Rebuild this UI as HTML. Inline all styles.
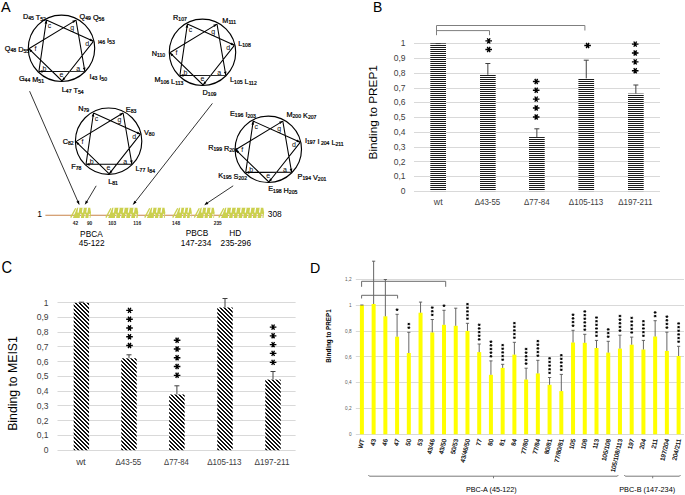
<!DOCTYPE html>
<html><head><meta charset="utf-8"><style>
html,body{margin:0;padding:0;background:#fff;}
svg{display:block;}
text{font-family:"Liberation Sans",sans-serif;}
</style></head><body>
<svg width="685" height="495" viewBox="0 0 685 495">
<defs>
<clipPath id="clipA"><rect x="0" y="0" width="344" height="260"/></clipPath>
<pattern id="hatchH" patternUnits="userSpaceOnUse" width="4" height="2"><rect width="4" height="2" fill="#fff"/><rect y="1" width="4" height="1" fill="#1a1a1a"/></pattern>
<pattern id="hatchD" patternUnits="userSpaceOnUse" width="4" height="4"><rect width="4" height="4" fill="#fff"/><path d="M0 0h2v1h-2zM1 1h2v1h-2zM2 2h2v1h-2zM3 3h1v1h-1zM0 3h1v1h-1z" fill="#111"/></pattern>
</defs>
<rect width="685" height="495" fill="#fff"/>
<line x1="414.00" y1="191.50" x2="660.00" y2="191.50" stroke="#d9d9d9" stroke-width="1" />
<text x="405.50" y="194.10" font-size="8.5" text-anchor="end" fill="#404040" >0</text>
<line x1="414.00" y1="176.50" x2="660.00" y2="176.50" stroke="#d9d9d9" stroke-width="1" />
<text x="405.50" y="179.33" font-size="8.5" text-anchor="end" fill="#404040" >0,1</text>
<line x1="414.00" y1="161.50" x2="660.00" y2="161.50" stroke="#d9d9d9" stroke-width="1" />
<text x="405.50" y="164.56" font-size="8.5" text-anchor="end" fill="#404040" >0,2</text>
<line x1="414.00" y1="147.50" x2="660.00" y2="147.50" stroke="#d9d9d9" stroke-width="1" />
<text x="405.50" y="149.79" font-size="8.5" text-anchor="end" fill="#404040" >0,3</text>
<line x1="414.00" y1="132.50" x2="660.00" y2="132.50" stroke="#d9d9d9" stroke-width="1" />
<text x="405.50" y="135.02" font-size="8.5" text-anchor="end" fill="#404040" >0,4</text>
<line x1="414.00" y1="117.50" x2="660.00" y2="117.50" stroke="#d9d9d9" stroke-width="1" />
<text x="405.50" y="120.25" font-size="8.5" text-anchor="end" fill="#404040" >0,5</text>
<line x1="414.00" y1="102.50" x2="660.00" y2="102.50" stroke="#d9d9d9" stroke-width="1" />
<text x="405.50" y="105.48" font-size="8.5" text-anchor="end" fill="#404040" >0,6</text>
<line x1="414.00" y1="88.50" x2="660.00" y2="88.50" stroke="#d9d9d9" stroke-width="1" />
<text x="405.50" y="90.71" font-size="8.5" text-anchor="end" fill="#404040" >0,7</text>
<line x1="414.00" y1="73.50" x2="660.00" y2="73.50" stroke="#d9d9d9" stroke-width="1" />
<text x="405.50" y="75.94" font-size="8.5" text-anchor="end" fill="#404040" >0,8</text>
<line x1="414.00" y1="58.50" x2="660.00" y2="58.50" stroke="#d9d9d9" stroke-width="1" />
<text x="405.50" y="61.17" font-size="8.5" text-anchor="end" fill="#404040" >0,9</text>
<line x1="414.00" y1="43.50" x2="660.00" y2="43.50" stroke="#d9d9d9" stroke-width="1" />
<text x="405.50" y="46.40" font-size="8.5" text-anchor="end" fill="#404040" >1</text>
<rect x="430.30" y="43.40" width="15.70" height="147.70" fill="url(#hatchH)" />
<line x1="438.15" y1="43.60" x2="438.15" y2="43.40" stroke="#404040" stroke-width="1" />
<line x1="435.65" y1="43.60" x2="440.65" y2="43.60" stroke="#404040" stroke-width="1" />
<rect x="480.00" y="74.71" width="15.70" height="116.39" fill="url(#hatchH)" />
<line x1="487.85" y1="63.50" x2="487.85" y2="74.71" stroke="#404040" stroke-width="1" />
<line x1="485.35" y1="63.50" x2="490.35" y2="63.50" stroke="#404040" stroke-width="1" />
<rect x="529.00" y="137.04" width="15.70" height="54.06" fill="url(#hatchH)" />
<line x1="536.85" y1="128.80" x2="536.85" y2="137.04" stroke="#404040" stroke-width="1" />
<line x1="534.35" y1="128.80" x2="539.35" y2="128.80" stroke="#404040" stroke-width="1" />
<rect x="578.40" y="78.40" width="15.70" height="112.70" fill="url(#hatchH)" />
<line x1="586.25" y1="60.20" x2="586.25" y2="78.40" stroke="#404040" stroke-width="1" />
<line x1="583.75" y1="60.20" x2="588.75" y2="60.20" stroke="#404040" stroke-width="1" />
<rect x="628.00" y="93.62" width="15.70" height="97.48" fill="url(#hatchH)" />
<line x1="635.85" y1="85.00" x2="635.85" y2="93.62" stroke="#404040" stroke-width="1" />
<line x1="633.35" y1="85.00" x2="638.35" y2="85.00" stroke="#404040" stroke-width="1" />
<path d="M485.40 40.90L492.00 40.90M487.31 38.28L490.09 43.52M490.09 38.28L487.31 43.52" stroke="#000" stroke-width="1.35" fill="none"/>
<path d="M485.40 49.50L492.00 49.50M487.31 46.88L490.09 52.12M490.09 46.88L487.31 52.12" stroke="#000" stroke-width="1.35" fill="none"/>
<path d="M532.90 81.50L539.50 81.50M534.81 78.88L537.59 84.12M537.59 78.88L534.81 84.12" stroke="#000" stroke-width="1.35" fill="none"/>
<path d="M532.90 90.20L539.50 90.20M534.81 87.58L537.59 92.82M537.59 87.58L534.81 92.82" stroke="#000" stroke-width="1.35" fill="none"/>
<path d="M532.90 99.10L539.50 99.10M534.81 96.48L537.59 101.72M537.59 96.48L534.81 101.72" stroke="#000" stroke-width="1.35" fill="none"/>
<path d="M532.90 108.00L539.50 108.00M534.81 105.38L537.59 110.62M537.59 105.38L534.81 110.62" stroke="#000" stroke-width="1.35" fill="none"/>
<path d="M532.90 117.00L539.50 117.00M534.81 114.38L537.59 119.62M537.59 114.38L534.81 119.62" stroke="#000" stroke-width="1.35" fill="none"/>
<path d="M584.30 45.50L590.90 45.50M586.21 42.88L588.99 48.12M588.99 42.88L586.21 48.12" stroke="#000" stroke-width="1.35" fill="none"/>
<path d="M631.90 44.10L638.50 44.10M633.81 41.48L636.59 46.72M636.59 41.48L633.81 46.72" stroke="#000" stroke-width="1.35" fill="none"/>
<path d="M631.90 53.00L638.50 53.00M633.81 50.38L636.59 55.62M636.59 50.38L633.81 55.62" stroke="#000" stroke-width="1.35" fill="none"/>
<path d="M631.90 61.90L638.50 61.90M633.81 59.28L636.59 64.52M636.59 59.28L633.81 64.52" stroke="#000" stroke-width="1.35" fill="none"/>
<path d="M631.90 70.70L638.50 70.70M633.81 68.08L636.59 73.32M636.59 68.08L633.81 73.32" stroke="#000" stroke-width="1.35" fill="none"/>
<path d="M436.5 35.2V25.5H584.9V30.5" stroke="#7f7f7f" fill="none" stroke-width="1"/>
<path d="M436.5 30.6H489.5V35.2" stroke="#7f7f7f" fill="none" stroke-width="1"/>
<text x="438.20" y="205.30" font-size="8.4" text-anchor="middle" fill="#404040" textLength="8.8" lengthAdjust="spacingAndGlyphs">wt</text>
<text x="487.50" y="205.30" font-size="8.4" text-anchor="middle" fill="#404040" textLength="25.6" lengthAdjust="spacingAndGlyphs">Δ43-55</text>
<text x="536.80" y="205.30" font-size="8.4" text-anchor="middle" fill="#404040" textLength="25.6" lengthAdjust="spacingAndGlyphs">Δ77-84</text>
<text x="586.00" y="205.30" font-size="8.4" text-anchor="middle" fill="#404040" textLength="34.3" lengthAdjust="spacingAndGlyphs">Δ105-113</text>
<text x="635.30" y="205.30" font-size="8.4" text-anchor="middle" fill="#404040" textLength="34.3" lengthAdjust="spacingAndGlyphs">Δ197-211</text>
<text transform="translate(373.1,11.7) scale(0.93,1)" font-size="15" fill="#000">B</text>
<text transform="translate(377.3,112.3) rotate(-90)" font-size="11.8" text-anchor="middle" fill="#000" textLength="94.4" lengthAdjust="spacingAndGlyphs">Binding to PREP1</text>
<line x1="57.50" y1="450.50" x2="295.60" y2="450.50" stroke="#d9d9d9" stroke-width="1" />
<text x="48.60" y="453.20" font-size="8.5" text-anchor="end" fill="#404040" >0</text>
<line x1="57.50" y1="435.50" x2="295.60" y2="435.50" stroke="#d9d9d9" stroke-width="1" />
<text x="48.60" y="438.45" font-size="8.5" text-anchor="end" fill="#404040" >0,1</text>
<line x1="57.50" y1="420.50" x2="295.60" y2="420.50" stroke="#d9d9d9" stroke-width="1" />
<text x="48.60" y="423.70" font-size="8.5" text-anchor="end" fill="#404040" >0,2</text>
<line x1="57.50" y1="405.50" x2="295.60" y2="405.50" stroke="#d9d9d9" stroke-width="1" />
<text x="48.60" y="408.95" font-size="8.5" text-anchor="end" fill="#404040" >0,3</text>
<line x1="57.50" y1="391.50" x2="295.60" y2="391.50" stroke="#d9d9d9" stroke-width="1" />
<text x="48.60" y="394.20" font-size="8.5" text-anchor="end" fill="#404040" >0,4</text>
<line x1="57.50" y1="376.50" x2="295.60" y2="376.50" stroke="#d9d9d9" stroke-width="1" />
<text x="48.60" y="379.45" font-size="8.5" text-anchor="end" fill="#404040" >0,5</text>
<line x1="57.50" y1="361.50" x2="295.60" y2="361.50" stroke="#d9d9d9" stroke-width="1" />
<text x="48.60" y="364.70" font-size="8.5" text-anchor="end" fill="#404040" >0,6</text>
<line x1="57.50" y1="346.50" x2="295.60" y2="346.50" stroke="#d9d9d9" stroke-width="1" />
<text x="48.60" y="349.95" font-size="8.5" text-anchor="end" fill="#404040" >0,7</text>
<line x1="57.50" y1="332.50" x2="295.60" y2="332.50" stroke="#d9d9d9" stroke-width="1" />
<text x="48.60" y="335.20" font-size="8.5" text-anchor="end" fill="#404040" >0,8</text>
<line x1="57.50" y1="317.50" x2="295.60" y2="317.50" stroke="#d9d9d9" stroke-width="1" />
<text x="48.60" y="320.45" font-size="8.5" text-anchor="end" fill="#404040" >0,9</text>
<line x1="57.50" y1="302.50" x2="295.60" y2="302.50" stroke="#d9d9d9" stroke-width="1" />
<text x="48.60" y="305.70" font-size="8.5" text-anchor="end" fill="#404040" >1</text>
<rect x="73.70" y="302.80" width="15.40" height="147.40" fill="url(#hatchD)" />
<line x1="81.40" y1="302.20" x2="81.40" y2="302.80" stroke="#404040" stroke-width="1" />
<line x1="78.90" y1="302.20" x2="83.90" y2="302.20" stroke="#404040" stroke-width="1" />
<rect x="121.30" y="358.30" width="15.40" height="91.90" fill="url(#hatchD)" />
<line x1="129.00" y1="354.80" x2="129.00" y2="358.30" stroke="#404040" stroke-width="1" />
<line x1="126.50" y1="354.80" x2="131.50" y2="354.80" stroke="#404040" stroke-width="1" />
<rect x="169.20" y="394.50" width="15.40" height="55.70" fill="url(#hatchD)" />
<line x1="176.90" y1="385.80" x2="176.90" y2="394.50" stroke="#404040" stroke-width="1" />
<line x1="174.40" y1="385.80" x2="179.40" y2="385.80" stroke="#404040" stroke-width="1" />
<rect x="217.30" y="307.50" width="15.40" height="142.70" fill="url(#hatchD)" />
<line x1="225.00" y1="298.50" x2="225.00" y2="307.50" stroke="#404040" stroke-width="1" />
<line x1="222.50" y1="298.50" x2="227.50" y2="298.50" stroke="#404040" stroke-width="1" />
<rect x="265.30" y="379.60" width="15.40" height="70.60" fill="url(#hatchD)" />
<line x1="273.00" y1="371.50" x2="273.00" y2="379.60" stroke="#404040" stroke-width="1" />
<line x1="270.50" y1="371.50" x2="275.50" y2="371.50" stroke="#404040" stroke-width="1" />
<path d="M126.20 310.40L132.80 310.40M128.11 307.78L130.89 313.02M130.89 307.78L128.11 313.02" stroke="#000" stroke-width="1.35" fill="none"/>
<path d="M126.20 319.20L132.80 319.20M128.11 316.58L130.89 321.82M130.89 316.58L128.11 321.82" stroke="#000" stroke-width="1.35" fill="none"/>
<path d="M126.20 328.00L132.80 328.00M128.11 325.38L130.89 330.62M130.89 325.38L128.11 330.62" stroke="#000" stroke-width="1.35" fill="none"/>
<path d="M126.20 336.70L132.80 336.70M128.11 334.08L130.89 339.32M130.89 334.08L128.11 339.32" stroke="#000" stroke-width="1.35" fill="none"/>
<path d="M126.20 345.50L132.80 345.50M128.11 342.88L130.89 348.12M130.89 342.88L128.11 348.12" stroke="#000" stroke-width="1.35" fill="none"/>
<path d="M173.80 340.20L180.40 340.20M175.71 337.58L178.49 342.82M178.49 337.58L175.71 342.82" stroke="#000" stroke-width="1.35" fill="none"/>
<path d="M173.80 349.00L180.40 349.00M175.71 346.38L178.49 351.62M178.49 346.38L175.71 351.62" stroke="#000" stroke-width="1.35" fill="none"/>
<path d="M173.80 357.70L180.40 357.70M175.71 355.08L178.49 360.32M178.49 355.08L175.71 360.32" stroke="#000" stroke-width="1.35" fill="none"/>
<path d="M173.80 366.50L180.40 366.50M175.71 363.88L178.49 369.12M178.49 363.88L175.71 369.12" stroke="#000" stroke-width="1.35" fill="none"/>
<path d="M173.80 375.30L180.40 375.30M175.71 372.68L178.49 377.92M178.49 372.68L175.71 377.92" stroke="#000" stroke-width="1.35" fill="none"/>
<path d="M269.80 327.10L276.40 327.10M271.71 324.48L274.49 329.72M274.49 324.48L271.71 329.72" stroke="#000" stroke-width="1.35" fill="none"/>
<path d="M269.80 335.80L276.40 335.80M271.71 333.18L274.49 338.42M274.49 333.18L271.71 338.42" stroke="#000" stroke-width="1.35" fill="none"/>
<path d="M269.80 344.60L276.40 344.60M271.71 341.98L274.49 347.22M274.49 341.98L271.71 347.22" stroke="#000" stroke-width="1.35" fill="none"/>
<path d="M269.80 353.40L276.40 353.40M271.71 350.78L274.49 356.02M274.49 350.78L271.71 356.02" stroke="#000" stroke-width="1.35" fill="none"/>
<path d="M269.80 362.40L276.40 362.40M271.71 359.78L274.49 365.02M274.49 359.78L271.71 365.02" stroke="#000" stroke-width="1.35" fill="none"/>
<text x="81.00" y="464.80" font-size="8.4" text-anchor="middle" fill="#404040" textLength="9.6" lengthAdjust="spacingAndGlyphs">wt</text>
<text x="128.40" y="464.80" font-size="8.4" text-anchor="middle" fill="#404040" textLength="25.9" lengthAdjust="spacingAndGlyphs">Δ43-55</text>
<text x="176.50" y="464.80" font-size="8.4" text-anchor="middle" fill="#404040" textLength="24.8" lengthAdjust="spacingAndGlyphs">Δ77-84</text>
<text x="224.40" y="464.80" font-size="8.4" text-anchor="middle" fill="#404040" textLength="34.3" lengthAdjust="spacingAndGlyphs">Δ105-113</text>
<text x="272.00" y="464.80" font-size="8.4" text-anchor="middle" fill="#404040" textLength="35.0" lengthAdjust="spacingAndGlyphs">Δ197-211</text>
<text transform="translate(1.4,272.9) scale(0.94,1)" font-size="15.6" fill="#000">C</text>
<text transform="translate(17.3,383.5) rotate(-90)" font-size="12.2" text-anchor="middle" fill="#000" textLength="94.6" lengthAdjust="spacingAndGlyphs">Binding to MEIS1</text>
<line x1="355.80" y1="434.50" x2="684.00" y2="434.50" stroke="#d9d9d9" stroke-width="1" />
<text x="351.60" y="436.00" font-size="4.7" text-anchor="end" fill="#595959" >0</text>
<line x1="355.80" y1="408.50" x2="684.00" y2="408.50" stroke="#d9d9d9" stroke-width="1" />
<text x="351.60" y="410.18" font-size="4.7" text-anchor="end" fill="#595959" >0,2</text>
<line x1="355.80" y1="382.50" x2="684.00" y2="382.50" stroke="#d9d9d9" stroke-width="1" />
<text x="351.60" y="384.36" font-size="4.7" text-anchor="end" fill="#595959" >0,4</text>
<line x1="355.80" y1="356.50" x2="684.00" y2="356.50" stroke="#d9d9d9" stroke-width="1" />
<text x="351.60" y="358.54" font-size="4.7" text-anchor="end" fill="#595959" >0,6</text>
<line x1="355.80" y1="331.50" x2="684.00" y2="331.50" stroke="#d9d9d9" stroke-width="1" />
<text x="351.60" y="332.72" font-size="4.7" text-anchor="end" fill="#595959" >0,8</text>
<line x1="355.80" y1="305.50" x2="684.00" y2="305.50" stroke="#d9d9d9" stroke-width="1" />
<text x="351.60" y="306.90" font-size="4.7" text-anchor="end" fill="#595959" >1</text>
<line x1="355.80" y1="279.50" x2="684.00" y2="279.50" stroke="#d9d9d9" stroke-width="1" />
<text x="351.60" y="281.08" font-size="4.7" text-anchor="end" fill="#595959" >1,2</text>
<rect x="359.90" y="305.10" width="4.00" height="129.20" fill="#ffff00" />
<line x1="361.90" y1="305.00" x2="361.90" y2="305.10" stroke="#555" stroke-width="0.9" />
<line x1="360.30" y1="305.00" x2="363.50" y2="305.00" stroke="#555" stroke-width="0.9" />
<text x="0.00" y="0.00" font-size="6.2" text-anchor="end" fill="#000" transform="translate(364.40,439.5) rotate(-77)" stroke="#000" stroke-width="0.18">WT</text>
<rect x="371.63" y="304.00" width="4.00" height="130.30" fill="#ffff00" />
<line x1="373.63" y1="261.20" x2="373.63" y2="304.00" stroke="#555" stroke-width="0.9" />
<line x1="372.03" y1="261.20" x2="375.23" y2="261.20" stroke="#555" stroke-width="0.9" />
<text x="0.00" y="0.00" font-size="6.2" text-anchor="end" fill="#000" transform="translate(376.13,439.5) rotate(-77)" stroke="#000" stroke-width="0.18">43</text>
<rect x="383.36" y="316.30" width="4.00" height="118.00" fill="#ffff00" />
<line x1="385.36" y1="279.50" x2="385.36" y2="316.30" stroke="#555" stroke-width="0.9" />
<line x1="383.76" y1="279.50" x2="386.96" y2="279.50" stroke="#555" stroke-width="0.9" />
<text x="0.00" y="0.00" font-size="6.2" text-anchor="end" fill="#000" transform="translate(387.86,439.5) rotate(-77)" stroke="#000" stroke-width="0.18">46</text>
<rect x="395.09" y="336.70" width="4.00" height="97.60" fill="#ffff00" />
<line x1="397.09" y1="314.30" x2="397.09" y2="336.70" stroke="#555" stroke-width="0.9" />
<line x1="395.49" y1="314.30" x2="398.69" y2="314.30" stroke="#555" stroke-width="0.9" />
<path d="M395.64 309.70L398.54 309.70M396.48 308.55L397.70 310.85M397.70 308.55L396.48 310.85" stroke="#000" stroke-width="0.95" fill="none"/>
<text x="0.00" y="0.00" font-size="6.2" text-anchor="end" fill="#000" transform="translate(399.59,439.5) rotate(-77)" stroke="#000" stroke-width="0.18">47</text>
<rect x="406.82" y="353.00" width="4.00" height="81.30" fill="#ffff00" />
<line x1="408.82" y1="332.30" x2="408.82" y2="353.00" stroke="#555" stroke-width="0.9" />
<line x1="407.22" y1="332.30" x2="410.42" y2="332.30" stroke="#555" stroke-width="0.9" />
<path d="M407.37 327.70L410.27 327.70M408.21 326.55L409.43 328.85M409.43 326.55L408.21 328.85" stroke="#000" stroke-width="0.95" fill="none"/>
<path d="M407.37 324.05L410.27 324.05M408.21 322.90L409.43 325.20M409.43 322.90L408.21 325.20" stroke="#000" stroke-width="0.95" fill="none"/>
<text x="0.00" y="0.00" font-size="6.2" text-anchor="end" fill="#000" transform="translate(411.32,439.5) rotate(-77)" stroke="#000" stroke-width="0.18">50</text>
<rect x="418.55" y="312.70" width="4.00" height="121.60" fill="#ffff00" />
<line x1="420.55" y1="302.10" x2="420.55" y2="312.70" stroke="#555" stroke-width="0.9" />
<line x1="418.95" y1="302.10" x2="422.15" y2="302.10" stroke="#555" stroke-width="0.9" />
<text x="0.00" y="0.00" font-size="6.2" text-anchor="end" fill="#000" transform="translate(423.05,439.5) rotate(-77)" stroke="#000" stroke-width="0.18">53</text>
<rect x="430.28" y="332.40" width="4.00" height="101.90" fill="#ffff00" />
<line x1="432.28" y1="319.50" x2="432.28" y2="332.40" stroke="#555" stroke-width="0.9" />
<line x1="430.68" y1="319.50" x2="433.88" y2="319.50" stroke="#555" stroke-width="0.9" />
<path d="M430.83 314.90L433.73 314.90M431.67 313.75L432.89 316.05M432.89 313.75L431.67 316.05" stroke="#000" stroke-width="0.95" fill="none"/>
<path d="M430.83 311.25L433.73 311.25M431.67 310.10L432.89 312.40M432.89 310.10L431.67 312.40" stroke="#000" stroke-width="0.95" fill="none"/>
<path d="M430.83 307.60L433.73 307.60M431.67 306.45L432.89 308.75M432.89 306.45L431.67 308.75" stroke="#000" stroke-width="0.95" fill="none"/>
<text x="0.00" y="0.00" font-size="6.2" text-anchor="end" fill="#000" transform="translate(434.78,439.5) rotate(-77)" stroke="#000" stroke-width="0.18">43/46</text>
<rect x="442.01" y="324.80" width="4.00" height="109.50" fill="#ffff00" />
<line x1="444.01" y1="310.30" x2="444.01" y2="324.80" stroke="#555" stroke-width="0.9" />
<line x1="442.41" y1="310.30" x2="445.61" y2="310.30" stroke="#555" stroke-width="0.9" />
<path d="M442.56 305.70L445.46 305.70M443.40 304.55L444.62 306.85M444.62 304.55L443.40 306.85" stroke="#000" stroke-width="0.95" fill="none"/>
<text x="0.00" y="0.00" font-size="6.2" text-anchor="end" fill="#000" transform="translate(446.51,439.5) rotate(-77)" stroke="#000" stroke-width="0.18">43/50</text>
<rect x="453.74" y="325.80" width="4.00" height="108.50" fill="#ffff00" />
<line x1="455.74" y1="308.20" x2="455.74" y2="325.80" stroke="#555" stroke-width="0.9" />
<line x1="454.14" y1="308.20" x2="457.34" y2="308.20" stroke="#555" stroke-width="0.9" />
<text x="0.00" y="0.00" font-size="6.2" text-anchor="end" fill="#000" transform="translate(458.24,439.5) rotate(-77)" stroke="#000" stroke-width="0.18">50/53</text>
<rect x="465.47" y="330.90" width="4.00" height="103.40" fill="#ffff00" />
<line x1="467.47" y1="323.30" x2="467.47" y2="330.90" stroke="#555" stroke-width="0.9" />
<line x1="465.87" y1="323.30" x2="469.07" y2="323.30" stroke="#555" stroke-width="0.9" />
<path d="M466.02 318.70L468.92 318.70M466.86 317.55L468.08 319.85M468.08 317.55L466.86 319.85" stroke="#000" stroke-width="0.95" fill="none"/>
<path d="M466.02 315.05L468.92 315.05M466.86 313.90L468.08 316.20M468.08 313.90L466.86 316.20" stroke="#000" stroke-width="0.95" fill="none"/>
<path d="M466.02 311.40L468.92 311.40M466.86 310.25L468.08 312.55M468.08 310.25L466.86 312.55" stroke="#000" stroke-width="0.95" fill="none"/>
<path d="M466.02 307.75L468.92 307.75M466.86 306.60L468.08 308.90M468.08 306.60L466.86 308.90" stroke="#000" stroke-width="0.95" fill="none"/>
<path d="M466.02 304.10L468.92 304.10M466.86 302.95L468.08 305.25M468.08 302.95L466.86 305.25" stroke="#000" stroke-width="0.95" fill="none"/>
<text x="0.00" y="0.00" font-size="6.2" text-anchor="end" fill="#000" transform="translate(469.97,439.5) rotate(-77)" stroke="#000" stroke-width="0.18">43/46/50</text>
<rect x="477.20" y="352.10" width="4.00" height="82.20" fill="#ffff00" />
<line x1="479.20" y1="344.00" x2="479.20" y2="352.10" stroke="#555" stroke-width="0.9" />
<line x1="477.60" y1="344.00" x2="480.80" y2="344.00" stroke="#555" stroke-width="0.9" />
<path d="M477.75 339.40L480.65 339.40M478.59 338.25L479.81 340.55M479.81 338.25L478.59 340.55" stroke="#000" stroke-width="0.95" fill="none"/>
<path d="M477.75 335.75L480.65 335.75M478.59 334.60L479.81 336.90M479.81 334.60L478.59 336.90" stroke="#000" stroke-width="0.95" fill="none"/>
<path d="M477.75 332.10L480.65 332.10M478.59 330.95L479.81 333.25M479.81 330.95L478.59 333.25" stroke="#000" stroke-width="0.95" fill="none"/>
<path d="M477.75 328.45L480.65 328.45M478.59 327.30L479.81 329.60M479.81 327.30L478.59 329.60" stroke="#000" stroke-width="0.95" fill="none"/>
<path d="M477.75 324.80L480.65 324.80M478.59 323.65L479.81 325.95M479.81 323.65L478.59 325.95" stroke="#000" stroke-width="0.95" fill="none"/>
<text x="0.00" y="0.00" font-size="6.2" text-anchor="end" fill="#000" transform="translate(481.70,439.5) rotate(-77)" stroke="#000" stroke-width="0.18">77</text>
<rect x="488.93" y="374.80" width="4.00" height="59.50" fill="#ffff00" />
<line x1="490.93" y1="360.90" x2="490.93" y2="374.80" stroke="#555" stroke-width="0.9" />
<line x1="489.33" y1="360.90" x2="492.53" y2="360.90" stroke="#555" stroke-width="0.9" />
<path d="M489.48 356.30L492.38 356.30M490.32 355.15L491.54 357.45M491.54 355.15L490.32 357.45" stroke="#000" stroke-width="0.95" fill="none"/>
<path d="M489.48 352.65L492.38 352.65M490.32 351.50L491.54 353.80M491.54 351.50L490.32 353.80" stroke="#000" stroke-width="0.95" fill="none"/>
<path d="M489.48 349.00L492.38 349.00M490.32 347.85L491.54 350.15M491.54 347.85L490.32 350.15" stroke="#000" stroke-width="0.95" fill="none"/>
<path d="M489.48 345.35L492.38 345.35M490.32 344.20L491.54 346.50M491.54 344.20L490.32 346.50" stroke="#000" stroke-width="0.95" fill="none"/>
<path d="M489.48 341.70L492.38 341.70M490.32 340.55L491.54 342.85M491.54 340.55L490.32 342.85" stroke="#000" stroke-width="0.95" fill="none"/>
<text x="0.00" y="0.00" font-size="6.2" text-anchor="end" fill="#000" transform="translate(493.43,439.5) rotate(-77)" stroke="#000" stroke-width="0.18">80</text>
<rect x="500.66" y="367.90" width="4.00" height="66.40" fill="#ffff00" />
<line x1="502.66" y1="364.30" x2="502.66" y2="367.90" stroke="#555" stroke-width="0.9" />
<line x1="501.06" y1="364.30" x2="504.26" y2="364.30" stroke="#555" stroke-width="0.9" />
<path d="M501.21 359.70L504.11 359.70M502.05 358.55L503.27 360.85M503.27 358.55L502.05 360.85" stroke="#000" stroke-width="0.95" fill="none"/>
<path d="M501.21 356.05L504.11 356.05M502.05 354.90L503.27 357.20M503.27 354.90L502.05 357.20" stroke="#000" stroke-width="0.95" fill="none"/>
<path d="M501.21 352.40L504.11 352.40M502.05 351.25L503.27 353.55M503.27 351.25L502.05 353.55" stroke="#000" stroke-width="0.95" fill="none"/>
<path d="M501.21 348.75L504.11 348.75M502.05 347.60L503.27 349.90M503.27 347.60L502.05 349.90" stroke="#000" stroke-width="0.95" fill="none"/>
<path d="M501.21 345.10L504.11 345.10M502.05 343.95L503.27 346.25M503.27 343.95L502.05 346.25" stroke="#000" stroke-width="0.95" fill="none"/>
<text x="0.00" y="0.00" font-size="6.2" text-anchor="end" fill="#000" transform="translate(505.16,439.5) rotate(-77)" stroke="#000" stroke-width="0.18">81</text>
<rect x="512.39" y="354.60" width="4.00" height="79.70" fill="#ffff00" />
<line x1="514.39" y1="342.30" x2="514.39" y2="354.60" stroke="#555" stroke-width="0.9" />
<line x1="512.79" y1="342.30" x2="515.99" y2="342.30" stroke="#555" stroke-width="0.9" />
<path d="M512.94 337.70L515.84 337.70M513.78 336.55L515.00 338.85M515.00 336.55L513.78 338.85" stroke="#000" stroke-width="0.95" fill="none"/>
<path d="M512.94 334.05L515.84 334.05M513.78 332.90L515.00 335.20M515.00 332.90L513.78 335.20" stroke="#000" stroke-width="0.95" fill="none"/>
<path d="M512.94 330.40L515.84 330.40M513.78 329.25L515.00 331.55M515.00 329.25L513.78 331.55" stroke="#000" stroke-width="0.95" fill="none"/>
<path d="M512.94 326.75L515.84 326.75M513.78 325.60L515.00 327.90M515.00 325.60L513.78 327.90" stroke="#000" stroke-width="0.95" fill="none"/>
<path d="M512.94 323.10L515.84 323.10M513.78 321.95L515.00 324.25M515.00 321.95L513.78 324.25" stroke="#000" stroke-width="0.95" fill="none"/>
<text x="0.00" y="0.00" font-size="6.2" text-anchor="end" fill="#000" transform="translate(516.89,439.5) rotate(-77)" stroke="#000" stroke-width="0.18">84</text>
<rect x="524.12" y="379.50" width="4.00" height="54.80" fill="#ffff00" />
<line x1="526.12" y1="368.20" x2="526.12" y2="379.50" stroke="#555" stroke-width="0.9" />
<line x1="524.52" y1="368.20" x2="527.72" y2="368.20" stroke="#555" stroke-width="0.9" />
<path d="M524.67 363.60L527.57 363.60M525.51 362.45L526.73 364.75M526.73 362.45L525.51 364.75" stroke="#000" stroke-width="0.95" fill="none"/>
<path d="M524.67 359.95L527.57 359.95M525.51 358.80L526.73 361.10M526.73 358.80L525.51 361.10" stroke="#000" stroke-width="0.95" fill="none"/>
<path d="M524.67 356.30L527.57 356.30M525.51 355.15L526.73 357.45M526.73 355.15L525.51 357.45" stroke="#000" stroke-width="0.95" fill="none"/>
<path d="M524.67 352.65L527.57 352.65M525.51 351.50L526.73 353.80M526.73 351.50L525.51 353.80" stroke="#000" stroke-width="0.95" fill="none"/>
<path d="M524.67 349.00L527.57 349.00M525.51 347.85L526.73 350.15M526.73 347.85L525.51 350.15" stroke="#000" stroke-width="0.95" fill="none"/>
<text x="0.00" y="0.00" font-size="6.2" text-anchor="end" fill="#000" transform="translate(528.62,439.5) rotate(-77)" stroke="#000" stroke-width="0.18">77/80</text>
<rect x="535.85" y="373.40" width="4.00" height="60.90" fill="#ffff00" />
<line x1="537.85" y1="360.30" x2="537.85" y2="373.40" stroke="#555" stroke-width="0.9" />
<line x1="536.25" y1="360.30" x2="539.45" y2="360.30" stroke="#555" stroke-width="0.9" />
<path d="M536.40 355.70L539.30 355.70M537.24 354.55L538.46 356.85M538.46 354.55L537.24 356.85" stroke="#000" stroke-width="0.95" fill="none"/>
<path d="M536.40 352.05L539.30 352.05M537.24 350.90L538.46 353.20M538.46 350.90L537.24 353.20" stroke="#000" stroke-width="0.95" fill="none"/>
<path d="M536.40 348.40L539.30 348.40M537.24 347.25L538.46 349.55M538.46 347.25L537.24 349.55" stroke="#000" stroke-width="0.95" fill="none"/>
<path d="M536.40 344.75L539.30 344.75M537.24 343.60L538.46 345.90M538.46 343.60L537.24 345.90" stroke="#000" stroke-width="0.95" fill="none"/>
<path d="M536.40 341.10L539.30 341.10M537.24 339.95L538.46 342.25M538.46 339.95L537.24 342.25" stroke="#000" stroke-width="0.95" fill="none"/>
<text x="0.00" y="0.00" font-size="6.2" text-anchor="end" fill="#000" transform="translate(540.35,439.5) rotate(-77)" stroke="#000" stroke-width="0.18">77/84</text>
<rect x="547.58" y="384.80" width="4.00" height="49.50" fill="#ffff00" />
<line x1="549.58" y1="377.50" x2="549.58" y2="384.80" stroke="#555" stroke-width="0.9" />
<line x1="547.98" y1="377.50" x2="551.18" y2="377.50" stroke="#555" stroke-width="0.9" />
<path d="M548.13 372.90L551.03 372.90M548.97 371.75L550.19 374.05M550.19 371.75L548.97 374.05" stroke="#000" stroke-width="0.95" fill="none"/>
<path d="M548.13 369.25L551.03 369.25M548.97 368.10L550.19 370.40M550.19 368.10L548.97 370.40" stroke="#000" stroke-width="0.95" fill="none"/>
<path d="M548.13 365.60L551.03 365.60M548.97 364.45L550.19 366.75M550.19 364.45L548.97 366.75" stroke="#000" stroke-width="0.95" fill="none"/>
<path d="M548.13 361.95L551.03 361.95M548.97 360.80L550.19 363.10M550.19 360.80L548.97 363.10" stroke="#000" stroke-width="0.95" fill="none"/>
<path d="M548.13 358.30L551.03 358.30M548.97 357.15L550.19 359.45M550.19 357.15L548.97 359.45" stroke="#000" stroke-width="0.95" fill="none"/>
<text x="0.00" y="0.00" font-size="6.2" text-anchor="end" fill="#000" transform="translate(552.08,439.5) rotate(-77)" stroke="#000" stroke-width="0.18">80/81</text>
<rect x="559.31" y="391.10" width="4.00" height="43.20" fill="#ffff00" />
<line x1="561.31" y1="374.40" x2="561.31" y2="391.10" stroke="#555" stroke-width="0.9" />
<line x1="559.71" y1="374.40" x2="562.91" y2="374.40" stroke="#555" stroke-width="0.9" />
<path d="M559.86 369.80L562.76 369.80M560.70 368.65L561.92 370.95M561.92 368.65L560.70 370.95" stroke="#000" stroke-width="0.95" fill="none"/>
<path d="M559.86 366.15L562.76 366.15M560.70 365.00L561.92 367.30M561.92 365.00L560.70 367.30" stroke="#000" stroke-width="0.95" fill="none"/>
<path d="M559.86 362.50L562.76 362.50M560.70 361.35L561.92 363.65M561.92 361.35L560.70 363.65" stroke="#000" stroke-width="0.95" fill="none"/>
<path d="M559.86 358.85L562.76 358.85M560.70 357.70L561.92 360.00M561.92 357.70L560.70 360.00" stroke="#000" stroke-width="0.95" fill="none"/>
<path d="M559.86 355.20L562.76 355.20M560.70 354.05L561.92 356.35M561.92 354.05L560.70 356.35" stroke="#000" stroke-width="0.95" fill="none"/>
<text x="0.00" y="0.00" font-size="6.2" text-anchor="end" fill="#000" transform="translate(563.81,439.5) rotate(-77)" stroke="#000" stroke-width="0.18">77/80/81</text>
<rect x="571.04" y="342.50" width="4.00" height="91.80" fill="#ffff00" />
<line x1="573.04" y1="330.30" x2="573.04" y2="342.50" stroke="#555" stroke-width="0.9" />
<line x1="571.44" y1="330.30" x2="574.64" y2="330.30" stroke="#555" stroke-width="0.9" />
<path d="M571.59 325.70L574.49 325.70M572.43 324.55L573.65 326.85M573.65 324.55L572.43 326.85" stroke="#000" stroke-width="0.95" fill="none"/>
<path d="M571.59 322.05L574.49 322.05M572.43 320.90L573.65 323.20M573.65 320.90L572.43 323.20" stroke="#000" stroke-width="0.95" fill="none"/>
<path d="M571.59 318.40L574.49 318.40M572.43 317.25L573.65 319.55M573.65 317.25L572.43 319.55" stroke="#000" stroke-width="0.95" fill="none"/>
<path d="M571.59 314.75L574.49 314.75M572.43 313.60L573.65 315.90M573.65 313.60L572.43 315.90" stroke="#000" stroke-width="0.95" fill="none"/>
<text x="0.00" y="0.00" font-size="6.2" text-anchor="end" fill="#000" transform="translate(575.54,439.5) rotate(-77)" stroke="#000" stroke-width="0.18">105</text>
<rect x="582.77" y="342.80" width="4.00" height="91.50" fill="#ffff00" />
<line x1="584.77" y1="334.30" x2="584.77" y2="342.80" stroke="#555" stroke-width="0.9" />
<line x1="583.17" y1="334.30" x2="586.37" y2="334.30" stroke="#555" stroke-width="0.9" />
<path d="M583.32 329.70L586.22 329.70M584.16 328.55L585.38 330.85M585.38 328.55L584.16 330.85" stroke="#000" stroke-width="0.95" fill="none"/>
<path d="M583.32 326.05L586.22 326.05M584.16 324.90L585.38 327.20M585.38 324.90L584.16 327.20" stroke="#000" stroke-width="0.95" fill="none"/>
<path d="M583.32 322.40L586.22 322.40M584.16 321.25L585.38 323.55M585.38 321.25L584.16 323.55" stroke="#000" stroke-width="0.95" fill="none"/>
<path d="M583.32 318.75L586.22 318.75M584.16 317.60L585.38 319.90M585.38 317.60L584.16 319.90" stroke="#000" stroke-width="0.95" fill="none"/>
<path d="M583.32 315.10L586.22 315.10M584.16 313.95L585.38 316.25M585.38 313.95L584.16 316.25" stroke="#000" stroke-width="0.95" fill="none"/>
<path d="M583.32 311.45L586.22 311.45M584.16 310.30L585.38 312.60M585.38 310.30L584.16 312.60" stroke="#000" stroke-width="0.95" fill="none"/>
<text x="0.00" y="0.00" font-size="6.2" text-anchor="end" fill="#000" transform="translate(587.27,439.5) rotate(-77)" stroke="#000" stroke-width="0.18">108</text>
<rect x="594.50" y="348.00" width="4.00" height="86.30" fill="#ffff00" />
<line x1="596.50" y1="340.40" x2="596.50" y2="348.00" stroke="#555" stroke-width="0.9" />
<line x1="594.90" y1="340.40" x2="598.10" y2="340.40" stroke="#555" stroke-width="0.9" />
<path d="M595.05 335.80L597.95 335.80M595.89 334.65L597.11 336.95M597.11 334.65L595.89 336.95" stroke="#000" stroke-width="0.95" fill="none"/>
<path d="M595.05 332.15L597.95 332.15M595.89 331.00L597.11 333.30M597.11 331.00L595.89 333.30" stroke="#000" stroke-width="0.95" fill="none"/>
<path d="M595.05 328.50L597.95 328.50M595.89 327.35L597.11 329.65M597.11 327.35L595.89 329.65" stroke="#000" stroke-width="0.95" fill="none"/>
<path d="M595.05 324.85L597.95 324.85M595.89 323.70L597.11 326.00M597.11 323.70L595.89 326.00" stroke="#000" stroke-width="0.95" fill="none"/>
<path d="M595.05 321.20L597.95 321.20M595.89 320.05L597.11 322.35M597.11 320.05L595.89 322.35" stroke="#000" stroke-width="0.95" fill="none"/>
<path d="M595.05 317.55L597.95 317.55M595.89 316.40L597.11 318.70M597.11 316.40L595.89 318.70" stroke="#000" stroke-width="0.95" fill="none"/>
<text x="0.00" y="0.00" font-size="6.2" text-anchor="end" fill="#000" transform="translate(599.00,439.5) rotate(-77)" stroke="#000" stroke-width="0.18">113</text>
<rect x="606.23" y="352.60" width="4.00" height="81.70" fill="#ffff00" />
<line x1="608.23" y1="341.30" x2="608.23" y2="352.60" stroke="#555" stroke-width="0.9" />
<line x1="606.63" y1="341.30" x2="609.83" y2="341.30" stroke="#555" stroke-width="0.9" />
<path d="M606.78 336.70L609.68 336.70M607.62 335.55L608.84 337.85M608.84 335.55L607.62 337.85" stroke="#000" stroke-width="0.95" fill="none"/>
<path d="M606.78 333.05L609.68 333.05M607.62 331.90L608.84 334.20M608.84 331.90L607.62 334.20" stroke="#000" stroke-width="0.95" fill="none"/>
<path d="M606.78 329.40L609.68 329.40M607.62 328.25L608.84 330.55M608.84 328.25L607.62 330.55" stroke="#000" stroke-width="0.95" fill="none"/>
<text x="0.00" y="0.00" font-size="6.2" text-anchor="end" fill="#000" transform="translate(610.73,439.5) rotate(-77)" stroke="#000" stroke-width="0.18">105/108</text>
<rect x="617.96" y="348.60" width="4.00" height="85.70" fill="#ffff00" />
<line x1="619.96" y1="335.20" x2="619.96" y2="348.60" stroke="#555" stroke-width="0.9" />
<line x1="618.36" y1="335.20" x2="621.56" y2="335.20" stroke="#555" stroke-width="0.9" />
<path d="M618.51 330.60L621.41 330.60M619.35 329.45L620.57 331.75M620.57 329.45L619.35 331.75" stroke="#000" stroke-width="0.95" fill="none"/>
<path d="M618.51 326.95L621.41 326.95M619.35 325.80L620.57 328.10M620.57 325.80L619.35 328.10" stroke="#000" stroke-width="0.95" fill="none"/>
<path d="M618.51 323.30L621.41 323.30M619.35 322.15L620.57 324.45M620.57 322.15L619.35 324.45" stroke="#000" stroke-width="0.95" fill="none"/>
<path d="M618.51 319.65L621.41 319.65M619.35 318.50L620.57 320.80M620.57 318.50L619.35 320.80" stroke="#000" stroke-width="0.95" fill="none"/>
<path d="M618.51 316.00L621.41 316.00M619.35 314.85L620.57 317.15M620.57 314.85L619.35 317.15" stroke="#000" stroke-width="0.95" fill="none"/>
<text x="0.00" y="0.00" font-size="6.2" text-anchor="end" fill="#000" transform="translate(622.46,439.5) rotate(-77)" stroke="#000" stroke-width="0.18">105/108/113</text>
<rect x="629.69" y="344.70" width="4.00" height="89.60" fill="#ffff00" />
<line x1="631.69" y1="337.10" x2="631.69" y2="344.70" stroke="#555" stroke-width="0.9" />
<line x1="630.09" y1="337.10" x2="633.29" y2="337.10" stroke="#555" stroke-width="0.9" />
<path d="M630.24 332.50L633.14 332.50M631.08 331.35L632.30 333.65M632.30 331.35L631.08 333.65" stroke="#000" stroke-width="0.95" fill="none"/>
<path d="M630.24 328.85L633.14 328.85M631.08 327.70L632.30 330.00M632.30 327.70L631.08 330.00" stroke="#000" stroke-width="0.95" fill="none"/>
<path d="M630.24 325.20L633.14 325.20M631.08 324.05L632.30 326.35M632.30 324.05L631.08 326.35" stroke="#000" stroke-width="0.95" fill="none"/>
<path d="M630.24 321.55L633.14 321.55M631.08 320.40L632.30 322.70M632.30 320.40L631.08 322.70" stroke="#000" stroke-width="0.95" fill="none"/>
<path d="M630.24 317.90L633.14 317.90M631.08 316.75L632.30 319.05M632.30 316.75L631.08 319.05" stroke="#000" stroke-width="0.95" fill="none"/>
<text x="0.00" y="0.00" font-size="6.2" text-anchor="end" fill="#000" transform="translate(634.19,439.5) rotate(-77)" stroke="#000" stroke-width="0.18">197</text>
<rect x="641.42" y="349.50" width="4.00" height="84.80" fill="#ffff00" />
<line x1="643.42" y1="340.40" x2="643.42" y2="349.50" stroke="#555" stroke-width="0.9" />
<line x1="641.82" y1="340.40" x2="645.02" y2="340.40" stroke="#555" stroke-width="0.9" />
<path d="M641.97 335.80L644.87 335.80M642.81 334.65L644.03 336.95M644.03 334.65L642.81 336.95" stroke="#000" stroke-width="0.95" fill="none"/>
<path d="M641.97 332.15L644.87 332.15M642.81 331.00L644.03 333.30M644.03 331.00L642.81 333.30" stroke="#000" stroke-width="0.95" fill="none"/>
<path d="M641.97 328.50L644.87 328.50M642.81 327.35L644.03 329.65M644.03 327.35L642.81 329.65" stroke="#000" stroke-width="0.95" fill="none"/>
<path d="M641.97 324.85L644.87 324.85M642.81 323.70L644.03 326.00M644.03 323.70L642.81 326.00" stroke="#000" stroke-width="0.95" fill="none"/>
<path d="M641.97 321.20L644.87 321.20M642.81 320.05L644.03 322.35M644.03 320.05L642.81 322.35" stroke="#000" stroke-width="0.95" fill="none"/>
<text x="0.00" y="0.00" font-size="6.2" text-anchor="end" fill="#000" transform="translate(645.92,439.5) rotate(-77)" stroke="#000" stroke-width="0.18">204</text>
<rect x="653.15" y="336.50" width="4.00" height="97.80" fill="#ffff00" />
<line x1="655.15" y1="320.70" x2="655.15" y2="336.50" stroke="#555" stroke-width="0.9" />
<line x1="653.55" y1="320.70" x2="656.75" y2="320.70" stroke="#555" stroke-width="0.9" />
<path d="M653.70 316.10L656.60 316.10M654.54 314.95L655.76 317.25M655.76 314.95L654.54 317.25" stroke="#000" stroke-width="0.95" fill="none"/>
<path d="M653.70 312.45L656.60 312.45M654.54 311.30L655.76 313.60M655.76 311.30L654.54 313.60" stroke="#000" stroke-width="0.95" fill="none"/>
<text x="0.00" y="0.00" font-size="6.2" text-anchor="end" fill="#000" transform="translate(657.65,439.5) rotate(-77)" stroke="#000" stroke-width="0.18">211</text>
<rect x="664.88" y="350.90" width="4.00" height="83.40" fill="#ffff00" />
<line x1="666.88" y1="332.20" x2="666.88" y2="350.90" stroke="#555" stroke-width="0.9" />
<line x1="665.28" y1="332.20" x2="668.48" y2="332.20" stroke="#555" stroke-width="0.9" />
<path d="M665.43 327.60L668.33 327.60M666.27 326.45L667.49 328.75M667.49 326.45L666.27 328.75" stroke="#000" stroke-width="0.95" fill="none"/>
<path d="M665.43 323.95L668.33 323.95M666.27 322.80L667.49 325.10M667.49 322.80L666.27 325.10" stroke="#000" stroke-width="0.95" fill="none"/>
<path d="M665.43 320.30L668.33 320.30M666.27 319.15L667.49 321.45M667.49 319.15L666.27 321.45" stroke="#000" stroke-width="0.95" fill="none"/>
<path d="M665.43 316.65L668.33 316.65M666.27 315.50L667.49 317.80M667.49 315.50L666.27 317.80" stroke="#000" stroke-width="0.95" fill="none"/>
<text x="0.00" y="0.00" font-size="6.2" text-anchor="end" fill="#000" transform="translate(669.38,439.5) rotate(-77)" stroke="#000" stroke-width="0.18">197/204</text>
<rect x="676.61" y="356.00" width="4.00" height="78.30" fill="#ffff00" />
<line x1="678.61" y1="346.30" x2="678.61" y2="356.00" stroke="#555" stroke-width="0.9" />
<line x1="677.01" y1="346.30" x2="680.21" y2="346.30" stroke="#555" stroke-width="0.9" />
<path d="M677.16 341.70L680.06 341.70M678.00 340.55L679.22 342.85M679.22 340.55L678.00 342.85" stroke="#000" stroke-width="0.95" fill="none"/>
<path d="M677.16 338.05L680.06 338.05M678.00 336.90L679.22 339.20M679.22 336.90L678.00 339.20" stroke="#000" stroke-width="0.95" fill="none"/>
<path d="M677.16 334.40L680.06 334.40M678.00 333.25L679.22 335.55M679.22 333.25L678.00 335.55" stroke="#000" stroke-width="0.95" fill="none"/>
<path d="M677.16 330.75L680.06 330.75M678.00 329.60L679.22 331.90M679.22 329.60L678.00 331.90" stroke="#000" stroke-width="0.95" fill="none"/>
<path d="M677.16 327.10L680.06 327.10M678.00 325.95L679.22 328.25M679.22 325.95L678.00 328.25" stroke="#000" stroke-width="0.95" fill="none"/>
<path d="M677.16 323.45L680.06 323.45M678.00 322.30L679.22 324.60M679.22 322.30L678.00 324.60" stroke="#000" stroke-width="0.95" fill="none"/>
<text x="0.00" y="0.00" font-size="6.2" text-anchor="end" fill="#000" transform="translate(681.11,439.5) rotate(-77)" stroke="#000" stroke-width="0.18">204/211</text>
<path d="M361.6 286.8V281.3H445.7V286.8" stroke="#6a6a6a" fill="none" stroke-width="1"/>
<path d="M361.6 298.5V295.3H397.6V298.5" stroke="#6a6a6a" fill="none" stroke-width="1"/>
<path d="M368.4 475.0L369.4 476.2H617.3L618.3 475.0M493.5 476.2V478.3" stroke="#6a6a6a" fill="none" stroke-width="0.9"/>
<path d="M624.3 475.0L625.3 476.2H679.5L680.5 475.0M652.7 476.2V478.3" stroke="#6a6a6a" fill="none" stroke-width="0.9"/>
<text x="491.30" y="492.00" font-size="7.2" text-anchor="middle" fill="#000" >PBC-A (45-122)</text>
<text x="647.20" y="492.00" font-size="7.3" text-anchor="middle" fill="#000" >PBC-B (147-234)</text>
<text transform="translate(310.0,272.8) scale(0.95,1)" font-size="15" fill="#000">D</text>
<text transform="translate(330.5,336.0) rotate(-90)" font-size="6.3" font-weight="bold" text-anchor="middle" fill="#000">Binding to PREP1</text>
<g clip-path="url(#clipA)">
<text transform="translate(1.0,11.6) scale(1,1)" font-size="14.5" fill="#000">A</text>
<circle cx="61.5" cy="48.3" r="33.2" fill="none" stroke="#000" stroke-width="1.15"/>
<path d="M84.80 71.20L38.90 71.40M38.90 71.40L46.40 20.10M46.40 20.10L93.40 41.30M93.40 41.30L62.10 81.00M62.10 81.00L28.80 48.70M28.80 48.70L76.00 20.10M76.00 20.10L84.80 71.20" stroke="#000" stroke-width="1.05" fill="none"/>
<path d="M38.90 71.40L42.49 70.03L42.51 72.73ZM46.40 20.10L47.22 23.86L44.54 23.47ZM93.40 41.30L89.56 41.05L90.67 38.59ZM62.10 81.00L63.27 77.34L65.39 79.01ZM28.80 48.70L32.32 50.24L30.44 52.18ZM76.00 20.10L73.62 23.12L72.22 20.81ZM84.80 71.20L82.86 67.88L85.52 67.42Z" fill="#000"/>
<text x="49.40" y="28.10" font-size="7" text-anchor="middle" fill="#000" >c</text>
<text x="72.30" y="29.50" font-size="7" text-anchor="middle" fill="#000" >g</text>
<text x="87.20" y="45.70" font-size="7" text-anchor="middle" fill="#000" >d</text>
<text x="78.10" y="70.80" font-size="7" text-anchor="middle" fill="#000" >a</text>
<text x="61.40" y="76.80" font-size="7" text-anchor="middle" fill="#000" >e</text>
<text x="44.50" y="71.30" font-size="7" text-anchor="middle" fill="#000" >b</text>
<text x="35.40" y="51.30" font-size="7" text-anchor="middle" fill="#000" >f</text>
<circle cx="202.5" cy="52.3" r="33.2" fill="none" stroke="#000" stroke-width="1.15"/>
<path d="M225.80 75.20L179.90 75.40M179.90 75.40L187.40 24.10M187.40 24.10L234.40 45.30M234.40 45.30L203.10 85.00M203.10 85.00L169.80 52.70M169.80 52.70L217.00 24.10M217.00 24.10L225.80 75.20" stroke="#000" stroke-width="1.05" fill="none"/>
<path d="M179.90 75.40L183.49 74.03L183.51 76.73ZM187.40 24.10L188.22 27.86L185.54 27.47ZM234.40 45.30L230.56 45.05L231.67 42.59ZM203.10 85.00L204.27 81.34L206.39 83.01ZM169.80 52.70L173.32 54.24L171.44 56.18ZM217.00 24.10L214.62 27.12L213.22 24.81ZM225.80 75.20L223.86 71.88L226.52 71.42Z" fill="#000"/>
<text x="190.40" y="32.10" font-size="7" text-anchor="middle" fill="#000" >c</text>
<text x="213.30" y="33.50" font-size="7" text-anchor="middle" fill="#000" >g</text>
<text x="228.20" y="49.70" font-size="7" text-anchor="middle" fill="#000" >d</text>
<text x="219.10" y="74.80" font-size="7" text-anchor="middle" fill="#000" >a</text>
<text x="202.40" y="80.80" font-size="7" text-anchor="middle" fill="#000" >e</text>
<text x="185.50" y="75.30" font-size="7" text-anchor="middle" fill="#000" >b</text>
<text x="176.40" y="55.30" font-size="7" text-anchor="middle" fill="#000" >f</text>
<circle cx="108.6" cy="141.2" r="33.2" fill="none" stroke="#000" stroke-width="1.15"/>
<path d="M131.90 164.10L86.00 164.30M86.00 164.30L93.50 113.00M93.50 113.00L140.50 134.20M140.50 134.20L109.20 173.90M109.20 173.90L75.90 141.60M75.90 141.60L123.10 113.00M123.10 113.00L131.90 164.10" stroke="#000" stroke-width="1.05" fill="none"/>
<path d="M86.00 164.30L89.59 162.93L89.61 165.63ZM93.50 113.00L94.32 116.76L91.64 116.37ZM140.50 134.20L136.66 133.95L137.77 131.49ZM109.20 173.90L110.37 170.24L112.49 171.91ZM75.90 141.60L79.42 143.14L77.54 145.08ZM123.10 113.00L120.72 116.02L119.32 113.71ZM131.90 164.10L129.96 160.78L132.62 160.32Z" fill="#000"/>
<text x="96.50" y="121.00" font-size="7" text-anchor="middle" fill="#000" >c</text>
<text x="119.40" y="122.40" font-size="7" text-anchor="middle" fill="#000" >g</text>
<text x="134.30" y="138.60" font-size="7" text-anchor="middle" fill="#000" >d</text>
<text x="125.20" y="163.70" font-size="7" text-anchor="middle" fill="#000" >a</text>
<text x="108.50" y="169.70" font-size="7" text-anchor="middle" fill="#000" >e</text>
<text x="91.60" y="164.20" font-size="7" text-anchor="middle" fill="#000" >b</text>
<text x="82.50" y="144.20" font-size="7" text-anchor="middle" fill="#000" >f</text>
<circle cx="268.3" cy="149.3" r="33.2" fill="none" stroke="#000" stroke-width="1.15"/>
<path d="M291.60 172.20L245.70 172.40M245.70 172.40L253.20 121.10M253.20 121.10L300.20 142.30M300.20 142.30L268.90 182.00M268.90 182.00L235.60 149.70M235.60 149.70L282.80 121.10M282.80 121.10L291.60 172.20" stroke="#000" stroke-width="1.05" fill="none"/>
<path d="M245.70 172.40L249.29 171.03L249.31 173.73ZM253.20 121.10L254.02 124.86L251.34 124.47ZM300.20 142.30L296.36 142.05L297.47 139.59ZM268.90 182.00L270.07 178.34L272.19 180.01ZM235.60 149.70L239.12 151.24L237.24 153.18ZM282.80 121.10L280.42 124.12L279.02 121.81ZM291.60 172.20L289.66 168.88L292.32 168.42Z" fill="#000"/>
<text x="256.20" y="129.10" font-size="7" text-anchor="middle" fill="#000" >c</text>
<text x="279.10" y="130.50" font-size="7" text-anchor="middle" fill="#000" >g</text>
<text x="294.00" y="146.70" font-size="7" text-anchor="middle" fill="#000" >d</text>
<text x="284.90" y="171.80" font-size="7" text-anchor="middle" fill="#000" >a</text>
<text x="268.20" y="177.80" font-size="7" text-anchor="middle" fill="#000" >e</text>
<text x="251.30" y="172.30" font-size="7" text-anchor="middle" fill="#000" >b</text>
<text x="242.20" y="152.30" font-size="7" text-anchor="middle" fill="#000" >f</text>
<text transform="translate(23.00,18.80) scale(1,1.1)" font-size="7.3" fill="#000" stroke="#000" stroke-width="0.22"><tspan>D</tspan><tspan font-size="5.1" dy="1.1">45</tspan><tspan dy="-1.1"></tspan><tspan> T</tspan><tspan font-size="5.1" dy="1.1">52</tspan><tspan dy="-1.1"></tspan></text>
<text transform="translate(79.50,18.80) scale(1,1.1)" font-size="7.3" fill="#000" stroke="#000" stroke-width="0.22"><tspan>Q</tspan><tspan font-size="5.1" dy="1.1">49</tspan><tspan dy="-1.1"></tspan><tspan> Q</tspan><tspan font-size="5.1" dy="1.1">56</tspan><tspan dy="-1.1"></tspan></text>
<text transform="translate(97.9,42.6) scale(1,1.1)" font-size="7.3" fill="#000" stroke="#000" stroke-width="0.22"><tspan font-size="5.1" dy="1.1">I46</tspan><tspan dy="-1.1"> I</tspan><tspan font-size="5.1" dy="1.1">53</tspan></text>
<text transform="translate(4.80,50.70) scale(1,1.1)" font-size="7.3" fill="#000" stroke="#000" stroke-width="0.22"><tspan>Q</tspan><tspan font-size="5.1" dy="1.1">48</tspan><tspan dy="-1.1"></tspan><tspan> D</tspan><tspan font-size="5.1" dy="1.1">55</tspan><tspan dy="-1.1"></tspan></text>
<text transform="translate(18.90,80.90) scale(1,1.1)" font-size="7.3" fill="#000" stroke="#000" stroke-width="0.22"><tspan>G</tspan><tspan font-size="5.1" dy="1.1">44</tspan><tspan dy="-1.1"></tspan><tspan> M</tspan><tspan font-size="5.1" dy="1.1">51</tspan><tspan dy="-1.1"></tspan></text>
<text transform="translate(89.60,79.00) scale(1,1.1)" font-size="7.3" fill="#000" stroke="#000" stroke-width="0.22"><tspan>I</tspan><tspan font-size="5.1" dy="1.1">43</tspan><tspan dy="-1.1"></tspan><tspan> I</tspan><tspan font-size="5.1" dy="1.1">50</tspan><tspan dy="-1.1"></tspan></text>
<text transform="translate(61.80,91.70) scale(1,1.1)" font-size="7.3" fill="#000" stroke="#000" stroke-width="0.22"><tspan>L</tspan><tspan font-size="5.1" dy="1.1">47</tspan><tspan dy="-1.1"></tspan><tspan> T</tspan><tspan font-size="5.1" dy="1.1">54</tspan><tspan dy="-1.1"></tspan></text>
<text transform="translate(173.10,20.10) scale(1,1.1)" font-size="7.3" fill="#000" stroke="#000" stroke-width="0.22"><tspan>R</tspan><tspan font-size="5.1" dy="1.1">107</tspan><tspan dy="-1.1"></tspan></text>
<text transform="translate(222.30,23.20) scale(1,1.1)" font-size="7.3" fill="#000" stroke="#000" stroke-width="0.22"><tspan>M</tspan><tspan font-size="5.1" dy="1.1">111</tspan><tspan dy="-1.1"></tspan></text>
<text transform="translate(238.20,45.90) scale(1,1.1)" font-size="7.3" fill="#000" stroke="#000" stroke-width="0.22"><tspan>L</tspan><tspan font-size="5.1" dy="1.1">108</tspan><tspan dy="-1.1"></tspan></text>
<text transform="translate(151.80,55.50) scale(1,1.1)" font-size="7.3" fill="#000" stroke="#000" stroke-width="0.22"><tspan>N</tspan><tspan font-size="5.1" dy="1.1">110</tspan><tspan dy="-1.1"></tspan></text>
<text transform="translate(154.50,82.30) scale(1,1.1)" font-size="7.3" fill="#000" stroke="#000" stroke-width="0.22"><tspan>M</tspan><tspan font-size="5.1" dy="1.1">106</tspan><tspan dy="-1.1"></tspan><tspan> L</tspan><tspan font-size="5.1" dy="1.1">113</tspan><tspan dy="-1.1"></tspan></text>
<text transform="translate(230.00,82.30) scale(1,1.1)" font-size="7.3" fill="#000" stroke="#000" stroke-width="0.22"><tspan>L</tspan><tspan font-size="5.1" dy="1.1">105</tspan><tspan dy="-1.1"></tspan><tspan> L</tspan><tspan font-size="5.1" dy="1.1">112</tspan><tspan dy="-1.1"></tspan></text>
<text transform="translate(202.60,95.10) scale(1,1.1)" font-size="7.3" fill="#000" stroke="#000" stroke-width="0.22"><tspan>D</tspan><tspan font-size="5.1" dy="1.1">109</tspan><tspan dy="-1.1"></tspan></text>
<text transform="translate(78.20,111.00) scale(1,1.1)" font-size="7.3" fill="#000" stroke="#000" stroke-width="0.22"><tspan>N</tspan><tspan font-size="5.1" dy="1.1">79</tspan><tspan dy="-1.1"></tspan></text>
<text transform="translate(125.80,111.90) scale(1,1.1)" font-size="7.3" fill="#000" stroke="#000" stroke-width="0.22"><tspan>E</tspan><tspan font-size="5.1" dy="1.1">83</tspan><tspan dy="-1.1"></tspan></text>
<text transform="translate(144.00,135.00) scale(1,1.1)" font-size="7.3" fill="#000" stroke="#000" stroke-width="0.22"><tspan>V</tspan><tspan font-size="5.1" dy="1.1">80</tspan><tspan dy="-1.1"></tspan></text>
<text transform="translate(62.70,144.10) scale(1,1.1)" font-size="7.3" fill="#000" stroke="#000" stroke-width="0.22"><tspan>C</tspan><tspan font-size="5.1" dy="1.1">82</tspan><tspan dy="-1.1"></tspan></text>
<text transform="translate(71.30,168.60) scale(1,1.1)" font-size="7.3" fill="#000" stroke="#000" stroke-width="0.22"><tspan>F</tspan><tspan font-size="5.1" dy="1.1">78</tspan><tspan dy="-1.1"></tspan></text>
<text transform="translate(135.50,170.50) scale(1,1.1)" font-size="7.3" fill="#000" stroke="#000" stroke-width="0.22"><tspan>L</tspan><tspan font-size="5.1" dy="1.1">77</tspan><tspan dy="-1.1"></tspan><tspan> I</tspan><tspan font-size="5.1" dy="1.1">84</tspan><tspan dy="-1.1"></tspan></text>
<text transform="translate(108.20,184.10) scale(1,1.1)" font-size="7.3" fill="#000" stroke="#000" stroke-width="0.22"><tspan>L</tspan><tspan font-size="5.1" dy="1.1">81</tspan><tspan dy="-1.1"></tspan></text>
<text transform="translate(230.00,115.90) scale(1,1.1)" font-size="7.3" fill="#000" stroke="#000" stroke-width="0.22"><tspan>E</tspan><tspan font-size="5.1" dy="1.1">196</tspan><tspan dy="-1.1"></tspan><tspan> I</tspan><tspan font-size="5.1" dy="1.1">203</tspan><tspan dy="-1.1"></tspan></text>
<text transform="translate(286.40,116.80) scale(1,1.1)" font-size="7.3" fill="#000" stroke="#000" stroke-width="0.22"><tspan>M</tspan><tspan font-size="5.1" dy="1.1">200</tspan><tspan dy="-1.1"></tspan><tspan> K</tspan><tspan font-size="5.1" dy="1.1">207</tspan><tspan dy="-1.1"></tspan></text>
<text transform="translate(304.90,142.80) scale(1,1.1)" font-size="7.3" fill="#000" stroke="#000" stroke-width="0.22"><tspan>I</tspan><tspan font-size="5.1" dy="1.1">197</tspan><tspan dy="-1.1"></tspan><tspan> I</tspan><tspan font-size="5.1" dy="1.1">&#160;204</tspan><tspan dy="-1.1"></tspan><tspan> L</tspan><tspan font-size="5.1" dy="1.1">211</tspan><tspan dy="-1.1"></tspan></text>
<text transform="translate(208.20,149.50) scale(1,1.1)" font-size="7.3" fill="#000" stroke="#000" stroke-width="0.22"><tspan>R</tspan><tspan font-size="5.1" dy="1.1">199</tspan><tspan dy="-1.1"></tspan><tspan> R</tspan><tspan font-size="5.1" dy="1.1">206</tspan><tspan dy="-1.1"></tspan></text>
<text transform="translate(218.20,177.70) scale(1,1.1)" font-size="7.3" fill="#000" stroke="#000" stroke-width="0.22"><tspan>K</tspan><tspan font-size="5.1" dy="1.1">195</tspan><tspan dy="-1.1"></tspan><tspan> S</tspan><tspan font-size="5.1" dy="1.1">202</tspan><tspan dy="-1.1"></tspan></text>
<text transform="translate(297.60,178.60) scale(1,1.1)" font-size="7.3" fill="#000" stroke="#000" stroke-width="0.22"><tspan>P</tspan><tspan font-size="5.1" dy="1.1">194</tspan><tspan dy="-1.1"></tspan><tspan> V</tspan><tspan font-size="5.1" dy="1.1">201</tspan><tspan dy="-1.1"></tspan></text>
<text transform="translate(268.20,191.40) scale(1,1.1)" font-size="7.3" fill="#000" stroke="#000" stroke-width="0.22"><tspan>E</tspan><tspan font-size="5.1" dy="1.1">198</tspan><tspan dy="-1.1"></tspan><tspan> H</tspan><tspan font-size="5.1" dy="1.1">205</tspan><tspan dy="-1.1"></tspan></text>
<line x1="29.60" y1="91.20" x2="79.20" y2="204.50" stroke="#000" stroke-width="0.8" />
<path d="M79.20 204.50L76.38 201.80L79.13 200.60Z" fill="#000"/>
<line x1="96.20" y1="185.80" x2="85.20" y2="204.30" stroke="#000" stroke-width="0.8" />
<path d="M85.20 204.30L85.75 200.44L88.33 201.97Z" fill="#000"/>
<line x1="212.40" y1="103.40" x2="133.20" y2="204.50" stroke="#000" stroke-width="0.8" />
<path d="M133.20 204.50L134.24 200.74L136.60 202.59Z" fill="#000"/>
<line x1="233.20" y1="185.80" x2="204.60" y2="204.80" stroke="#000" stroke-width="0.8" />
<path d="M204.60 204.80L206.77 201.56L208.43 204.06Z" fill="#000"/>
<line x1="45.40" y1="215.30" x2="262.00" y2="215.30" stroke="#c8834a" stroke-width="1.1" />
<text x="39.60" y="216.70" font-size="8.6" text-anchor="middle" fill="#000" >1</text>
<text x="267.80" y="217.00" font-size="8.4" text-anchor="start" fill="#000" >308</text>
<path d="M70.70 217.6L75.70 208.2" stroke="#cbd04e" stroke-width="1.3" fill="none"/>
<path d="M72.90 218.0L77.10 207.7L90.20 207.7L91.00 212.5L90.40 218.0Z" fill="#cbd04e"/>
<path d="M78.90 207.4L78.10 212.6M80.70 213.9L80.30 218.4M83.27 207.4L82.47 212.6M85.07 213.9L84.67 218.4M87.63 207.4L86.83 212.6M89.43 213.9L89.03 218.4" stroke="#fff" stroke-width="1.25" fill="none"/>
<path d="M79.95 215.3H80.95M84.32 215.3H85.32M88.68 215.3H89.68" stroke="#c8834a" stroke-width="1.0" fill="none"/>
<path d="M105.90 217.6L110.90 208.2" stroke="#cbd04e" stroke-width="1.3" fill="none"/>
<path d="M108.10 218.0L112.30 207.7L137.40 207.7L138.20 212.5L137.60 218.0Z" fill="#cbd04e"/>
<path d="M114.10 207.4L113.30 212.6M115.90 213.9L115.50 218.4M119.12 207.4L118.32 212.6M120.92 213.9L120.52 218.4M124.14 207.4L123.34 212.6M125.94 213.9L125.54 218.4M129.16 207.4L128.36 212.6M130.96 213.9L130.56 218.4M134.18 207.4L133.38 212.6M135.98 213.9L135.58 218.4" stroke="#fff" stroke-width="1.25" fill="none"/>
<path d="M115.15 215.3H116.15M120.17 215.3H121.17M125.19 215.3H126.19M130.21 215.3H131.21M135.23 215.3H136.23" stroke="#c8834a" stroke-width="1.0" fill="none"/>
<path d="M144.70 217.6L149.70 208.2" stroke="#cbd04e" stroke-width="1.3" fill="none"/>
<path d="M146.90 218.0L151.10 207.7L164.50 207.7L165.30 212.5L164.70 218.0Z" fill="#cbd04e"/>
<path d="M152.90 207.4L152.10 212.6M154.70 213.9L154.30 218.4M157.37 207.4L156.57 212.6M159.17 213.9L158.77 218.4M161.83 207.4L161.03 212.6M163.63 213.9L163.23 218.4" stroke="#fff" stroke-width="1.25" fill="none"/>
<path d="M153.95 215.3H154.95M158.42 215.3H159.42M162.88 215.3H163.88" stroke="#c8834a" stroke-width="1.0" fill="none"/>
<path d="M172.70 217.6L177.70 208.2" stroke="#cbd04e" stroke-width="1.3" fill="none"/>
<path d="M174.90 218.0L179.10 207.7L191.00 207.7L191.80 212.5L191.20 218.0Z" fill="#cbd04e"/>
<path d="M180.90 207.4L180.10 212.6M182.70 213.9L182.30 218.4M184.87 207.4L184.07 212.6M186.67 213.9L186.27 218.4M188.83 207.4L188.03 212.6M190.63 213.9L190.23 218.4" stroke="#fff" stroke-width="1.25" fill="none"/>
<path d="M181.95 215.3H182.95M185.92 215.3H186.92M189.88 215.3H190.88" stroke="#c8834a" stroke-width="1.0" fill="none"/>
<path d="M194.30 217.6L199.30 208.2" stroke="#cbd04e" stroke-width="1.3" fill="none"/>
<path d="M196.50 218.0L200.70 207.7L213.80 207.7L214.60 212.5L214.00 218.0Z" fill="#cbd04e"/>
<path d="M202.50 207.4L201.70 212.6M204.30 213.9L203.90 218.4M206.87 207.4L206.07 212.6M208.67 213.9L208.27 218.4M211.23 207.4L210.43 212.6M213.03 213.9L212.63 218.4" stroke="#fff" stroke-width="1.25" fill="none"/>
<path d="M203.55 215.3H204.55M207.92 215.3H208.92M212.28 215.3H213.28" stroke="#c8834a" stroke-width="1.0" fill="none"/>
<path d="M218.80 217.6L223.80 208.2" stroke="#cbd04e" stroke-width="1.3" fill="none"/>
<path d="M221.00 218.0L225.20 207.7L263.30 207.7L264.10 212.5L263.50 218.0Z" fill="#cbd04e"/>
<path d="M227.00 207.4L226.20 212.6M228.80 213.9L228.40 218.4M231.76 207.4L230.96 212.6M233.56 213.9L233.16 218.4M236.53 207.4L235.73 212.6M238.33 213.9L237.93 218.4M241.29 207.4L240.49 212.6M243.09 213.9L242.69 218.4M246.05 207.4L245.25 212.6M247.85 213.9L247.45 218.4M250.81 207.4L250.01 212.6M252.61 213.9L252.21 218.4M255.58 207.4L254.78 212.6M257.38 213.9L256.98 218.4M260.34 207.4L259.54 212.6M262.14 213.9L261.74 218.4" stroke="#fff" stroke-width="1.25" fill="none"/>
<path d="M228.05 215.3H229.05M232.81 215.3H233.81M237.58 215.3H238.58M242.34 215.3H243.34M247.10 215.3H248.10M251.86 215.3H252.86M256.63 215.3H257.63M261.39 215.3H262.39" stroke="#c8834a" stroke-width="1.0" fill="none"/>
<text x="75.50" y="225.00" font-size="4.8" text-anchor="middle" fill="#222" font-weight="bold">42</text>
<text x="89.60" y="225.00" font-size="4.8" text-anchor="middle" fill="#222" font-weight="bold">90</text>
<text x="112.20" y="225.00" font-size="4.8" text-anchor="middle" fill="#222" font-weight="bold">103</text>
<text x="137.20" y="225.00" font-size="4.8" text-anchor="middle" fill="#222" font-weight="bold">116</text>
<text x="176.10" y="225.00" font-size="4.8" text-anchor="middle" fill="#222" font-weight="bold">148</text>
<text x="217.80" y="225.00" font-size="4.8" text-anchor="middle" fill="#222" font-weight="bold">235</text>
<text x="91.40" y="236.60" font-size="8.3" text-anchor="middle" fill="#000" >PBCA</text>
<text x="91.70" y="246.20" font-size="8.3" text-anchor="middle" fill="#000" >45-122</text>
<text x="197.10" y="236.10" font-size="8.3" text-anchor="middle" fill="#000" >PBCB</text>
<text x="196.10" y="246.40" font-size="8.3" text-anchor="middle" fill="#000" >147-234</text>
<text x="235.30" y="236.10" font-size="8.3" text-anchor="middle" fill="#000" >HD</text>
<text x="235.80" y="246.40" font-size="8.3" text-anchor="middle" fill="#000" >235-296</text>
</g>
</svg>
</body></html>
